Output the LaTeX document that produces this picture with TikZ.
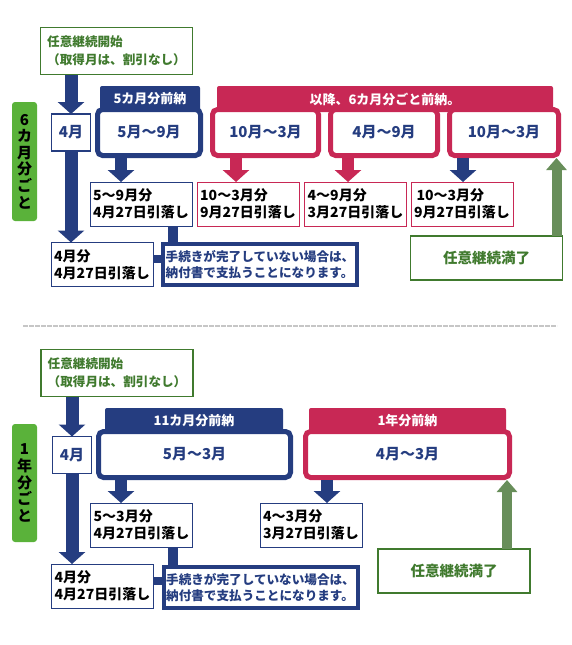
\documentclass[tikz,border=0pt]{standalone}
\usepackage{fontspec}
\setmainfont{Noto Sans CJK JP}
\usetikzlibrary{arrows.meta}
\definecolor{navy}{RGB}{37,61,128}
\definecolor{crim}{RGB}{200,40,85}
\definecolor{lgreen}{RGB}{90,178,58}
\definecolor{dgreen}{RGB}{64,122,46}
\definecolor{agreen}{RGB}{104,142,90}
\begin{document}
\begin{tikzpicture}[x=1pt, y=-1pt,
	every node/.style={inner sep=0pt, outer sep=0pt},
	startbox/.style={draw=dgreen, line width=1.2pt, text=dgreen, minimum width=152pt, minimum height=47pt, align=left, font=\bfseries\fontsize{12.6}{18}\selectfont},
	monthbox/.style={draw=navy, fill=white, line width=1.6pt, text=navy, minimum width=39pt, minimum height=37pt, font=\bfseries\fontsize{15}{15}\selectfont},
	tabnavy/.style={fill=navy, rounded corners=2pt, text=white, minimum height=26pt, font=\bfseries\fontsize{13}{13}\selectfont},
	tabred/.style={tabnavy, fill=crim},
	termbox/.style={draw=navy, fill=white, line width=5pt, outer sep=2.5pt, rounded corners=5pt, text=navy, minimum height=46pt, font=\bfseries\fontsize{15}{15}\selectfont},
	paybox/.style={draw=navy, fill=white, line width=1pt, minimum width=102pt, minimum height=44pt, align=left, font=\bfseries\fontsize{14}{17}\selectfont},
	notebox/.style={draw=navy, fill=white, line width=4pt, outer sep=2pt, text=navy, minimum width=194pt, minimum height=41pt, align=left, font=\bfseries\fontsize{12.6}{16}\selectfont},
	endbox/.style={draw=dgreen, line width=1.2pt, text=dgreen, minimum width=152pt, minimum height=44pt, font=\bfseries\fontsize{14.5}{14.5}\selectfont},
	sidelabel/.style={fill=lgreen, rounded corners=3pt, minimum width=25pt, align=center, font=\bfseries\fontsize{15}{16.6}\selectfont},
	dnarrow/.style={draw=navy, line width=13pt, -{Triangle[width=26pt,length=12pt]}},
	uparrow/.style={draw=agreen, line width=10pt, -{Triangle[width=20pt,length=12pt]}},
	link/.style={draw=navy, line width=10pt}]
	\useasboundingbox (0,0) rectangle (572,645);
	
	\node[sidelabel, minimum height=119pt] (side1) at (24.5,161.5) {6\\カ\\月\\分\\ご\\と};
	\node[startbox] (st1) at (116.5,51) {任意継続開始\\（取得月は、割引なし）};
	\node[monthbox] (m4) at (71,132.5) {4月};
	\node[tabnavy, minimum width=100pt] (tab1) at (150,99) {5カ月分前納};
	\node[termbox, minimum width=103pt] (r1) at (149,132.5) {5月〜9月};
	\node[tabred, minimum width=336pt] (tab2) at (385,99) {以降、6カ月分ごと前納。};
	\node[termbox, draw=crim, minimum width=106pt] (r2) at (265.5,132.5) {10月〜3月};
	\node[termbox, draw=crim, minimum width=107pt] (r3) at (384,132.5) {4月〜9月};
	\node[termbox, draw=crim, minimum width=109pt] (r4) at (504,132.5) {10月〜3月};
	\node[paybox] (p1) at (141,204) {5〜9月分\\4月27日引落し};
	\node[paybox, draw=crim] (p2) at (248,204) {10〜3月分\\9月27日引落し};
	\node[paybox, draw=crim] (p3) at (355.5,204) {4〜9月分\\3月27日引落し};
	\node[paybox, draw=crim] (p4) at (462,204) {\,10〜3月分\\9月27日引落し};
	\node[paybox] (q1) at (102,264.5) {4月分\\4月27日引落し};
	\node[notebox] (n1) at (260,264.5) {手続きが完了していない場合は、\\納付書で支払うことになります。};
	\node[endbox] (e1) at (486.5,258) {任意継続満了};
	
	\draw[dnarrow] (st1.south -| m4.north) -- (m4.north);
	\draw[dnarrow] (m4.south) -- (m4.south |- q1.north);
	\draw[dnarrow, line width=12pt] ([xshift=26pt]r1.south west) -- ([xshift=26pt]r1.south west |- p1.north);
	\draw[dnarrow, draw=crim, line width=12pt] ([xshift=26pt]r2.south west) -- ([xshift=26pt]r2.south west |- p2.north);
	\draw[dnarrow, draw=crim, line width=12pt] ([xshift=20pt]r3.south west) -- ([xshift=20pt]r3.south west |- p3.north);
	\draw[dnarrow, line width=12pt] ([xshift=16pt]r4.south west) -- ([xshift=16pt]r4.south west |- p4.north);
	\draw[link] ([xshift=12pt]n1.north west |- p1.south) -- ([xshift=12pt]n1.north west);
	\draw[link, line width=8pt] ([yshift=5.5pt]q1.east) -- ([yshift=5.5pt]q1.east -| n1.west);
	\draw[uparrow] ([xshift=-6pt]e1.north east) -- ([xshift=-6pt]e1.north east |- r4.south);
	
	\draw[gray!45, line width=1.3pt, dash pattern=on 5pt off 1pt] (23,326) -- (557,326);
	
	\node[sidelabel, minimum height=118pt] (side2) at (24.5,483) {1\\年\\分\\ご\\と};
	\node[startbox] (st2) at (117,373) {任意継続開始\\（取得月は、割引なし）};
	\node[monthbox] (m4b) at (72,455) {4月};
	\node[tabnavy, minimum width=178pt] (tab3) at (194,421) {11カ月分前納};
	\node[termbox, minimum width=192pt] (r5) at (194.5,454.5) {5月〜3月};
	\node[tabred, minimum width=197pt] (tab4) at (407.5,421) {1年分前納};
	\node[termbox, draw=crim, minimum width=204pt] (r6) at (407.5,454.5) {4月〜3月};
	\node[paybox] (p5) at (141.5,525) {5〜3月分\\4月27日引落し};
	\node[paybox] (p6) at (311,525) {4〜3月分\\3月27日引落し};
	\node[paybox] (q2) at (102.5,586) {4月分\\4月27日引落し};
	\node[notebox] (n2) at (260.5,587.5) {手続きが完了していない場合は、\\納付書で支払うことになります。};
	\node[endbox] (e2) at (454,571) {任意継続満了};
	
	\draw[dnarrow] (st2.south -| m4b.north) -- (m4b.north);
	\draw[dnarrow] (m4b.south) -- (m4b.south |- q2.north);
	\draw[dnarrow, line width=12pt] ([xshift=25pt]r5.south west) -- ([xshift=25pt]r5.south west |- p5.north);
	\draw[dnarrow, line width=12pt] ([xshift=24pt]r6.south west) -- ([xshift=24pt]r6.south west |- p6.north);
	\draw[link] ([xshift=11pt]n2.north west |- p5.south) -- ([xshift=11pt]n2.north west);
	\draw[link, line width=8pt] ([yshift=5pt]q2.east) -- ([yshift=5pt]q2.east -| n2.west);
	\draw[uparrow] ([xshift=-23pt]e2.north east) -- ([xshift=-23pt]e2.north east |- r6.south);
	
\end{tikzpicture}
\end{document}
